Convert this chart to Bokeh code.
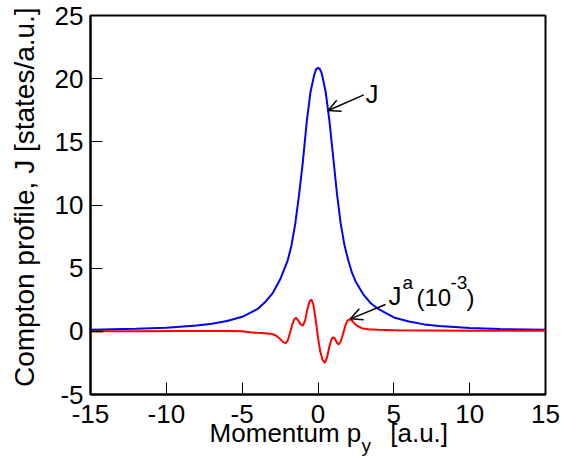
from bokeh.plotting import figure
from bokeh.models import Label, Arrow, OpenHead, Range1d, FixedTicker
from bokeh.embed import file_html
from bokeh.resources import INLINE

# ---------------- data ----------------
J_x = [-15, -12, -10, -8, -7, -6, -5, -4, -3.5, -3, -2.5, -2, -1.75, -1.5, -1.25,
       -1, -0.75, -0.5, -0.25, -0.125, 0, 0.125, 0.25, 0.5, 0.75, 1.0, 1.25, 1.5,
       1.75, 2.0, 2.25, 2.5, 3, 3.5, 4, 5, 6, 7, 8, 10, 12, 15]
J_y = [0.12, 0.2, 0.28, 0.46, 0.6, 0.82, 1.15, 1.75, 2.3, 3.0, 4.1, 5.6, 6.8, 8.5, 10.8,
       13.4, 16.5, 18.9, 20.3, 20.75, 20.85, 20.75, 20.4, 19.0, 16.7, 13.8, 10.9, 8.5,
       6.8, 5.6, 4.6, 3.9, 2.9, 2.2, 1.75, 1.1, 0.78, 0.55, 0.42, 0.27, 0.18, 0.12]

Ja_x = [-15, -12, -9, -6, -5, -4.5, -4.0, -3.5, -3.0, -2.75, -2.5, -2.3, -2.14, -2.0,
        -1.85, -1.7, -1.55, -1.44, -1.3, -1.15, -1.0, -0.85, -0.7, -0.55, -0.43, -0.3,
        -0.15, 0.0, 0.15, 0.3, 0.45, 0.6, 0.75, 0.9, 1.0, 1.1, 1.25, 1.37, 1.5, 1.65,
        1.8, 1.95, 2.1, 2.25, 2.4, 2.6, 2.9, 3.3, 4.0, 5.0, 7.0, 10.0, 15.0]
Ja_y = [0.0, 0.0, 0.02, 0.02, 0.0, -0.08, -0.12, -0.15, -0.22, -0.35, -0.6, -0.85, -0.94, -0.75,
        -0.15, 0.55, 0.98, 1.07, 0.85, 0.55, 0.46, 0.85, 1.75, 2.38, 2.52, 2.1,
        0.9, -0.5, -1.6, -2.25, -2.5, -2.05, -1.2, -0.6, -0.47, -0.55, -0.9, -1.04, -0.8, -0.2,
        0.45, 0.85, 0.97, 0.85, 0.62, 0.42, 0.25, 0.17, 0.12, 0.09, 0.07, 0.05, 0.04]

# short dark trace visible over the red one at the left edge
dark_x = [-15, -14.15]
dark_y = [0.0, 0.0]

x_ticks = [-15, -10, -5, 0, 5, 10, 15]
x_tick_labels = ["-15", "-10", "-5", "0", "5", "10", "15"]
y_ticks = [-5, 0, 5, 10, 15, 20, 25]
y_tick_labels = ["-5", "0", "5", "10", "15", "20", "25"]

NB = "\u00a0"
y_title = NB * 2 + "Compton profile, J [states/a.u.]"
x_title = NB * 3 + "Momentum p" + NB * 4 + "[a.u.]"
x_title_sub = "y"

# annotation anchors (data coordinates)
arrow_J = dict(x_start=3.02, y_start=18.72, x_end=0.67, y_end=17.48)
arrow_Ja = dict(x_start=4.45, y_start=2.12, x_end=2.14, y_end=0.99)

FONT = "Liberation Sans"

W, H = 567, 460
FL, FR, FT, FB = 90, 545, 15, 394   # frame edges in canvas pixels

p = figure(width=W, height=H, output_backend="svg", toolbar_location=None,
           x_range=Range1d(-15, 15), y_range=Range1d(-5, 25),
           min_border_left=FL, min_border_right=W - FR,
           min_border_top=FT, min_border_bottom=H - FB)
p.background_fill_color = "white"
p.border_fill_color = "white"
p.outline_line_color = "black"
p.outline_line_width = 2
p.xgrid.visible = False
p.ygrid.visible = False

for ax, ticks, labels in ((p.xaxis[0], x_ticks, x_tick_labels), (p.yaxis[0], y_ticks, y_tick_labels)):
    ax.ticker = FixedTicker(ticks=ticks)
    ax.major_label_overrides = {t: l for t, l in zip(ticks, labels)}
    ax.major_tick_in = 12
    ax.major_tick_out = 0
    ax.minor_tick_in = 0
    ax.minor_tick_out = 0
    ax.major_tick_line_color = "black"
    ax.major_tick_line_width = 1
    ax.axis_line_color = "black"
    ax.axis_line_width = 2
    ax.major_label_text_font = FONT
    ax.major_label_text_font_size = "26px"
    ax.major_label_text_color = "black"

p.xaxis.major_label_standoff = 10
p.yaxis.major_label_standoff = 7
p.yaxis.axis_label = y_title
p.yaxis.axis_label_text_font_size = "28px"
p.yaxis.axis_label_standoff = 12
p.xaxis.axis_label = x_title
p.xaxis.axis_label_text_font_size = "26px"
p.xaxis.axis_label_standoff = -8
for ax in (p.xaxis[0], p.yaxis[0]):
    ax.axis_label_text_font = FONT
    ax.axis_label_text_font_style = "normal"
    ax.axis_label_text_color = "black"

p.line(J_x, J_y, line_color="#0000ff", line_width=2)
p.line(Ja_x, Ja_y, line_color="#ff0000", line_width=2)
p.line(dark_x, dark_y, line_color="#4a1010", line_width=2)


def lab(text, px, cy, size):
    # px: left edge, cy: vertical middle, in canvas pixels -> frame-relative screen units
    p.add_layout(Label(x=px - FL, y=FB - cy, x_units="screen", y_units="screen",
                       text=text, text_font=FONT, text_font_size=size,
                       text_color="black", text_baseline="middle", text_align="left"))


# subscript of the x title: placed in the (empty) right side panel so it is not clipped
try:
    sub = Label(x=361, y=445, x_units="canvas", y_units="canvas")
except Exception:
    sub = Label(x=361 - FR, y=FB - 445, x_units="screen", y_units="screen")
sub.text = x_title_sub
sub.text_font = FONT
sub.text_font_size = "19px"
sub.text_color = "black"
sub.text_baseline = "middle"
sub.text_align = "left"
p.add_layout(sub, "right")

# annotations
lab("J", 365, 93, "26px")
lab("J", 388, 295, "26px")
lab("a", 402, 281.5, "19px")
lab("(10", 416, 296.5, "24px")
lab("-3", 450, 281.5, "19px")
lab(")", 466, 296.5, "24px")

for a in (arrow_J, arrow_Ja):
    p.add_layout(Arrow(end=OpenHead(size=12, line_width=1.5, line_color="black"),
                       line_color="black", line_width=1.5, **a))

open("out.html", "w").write(file_html(p, INLINE))
